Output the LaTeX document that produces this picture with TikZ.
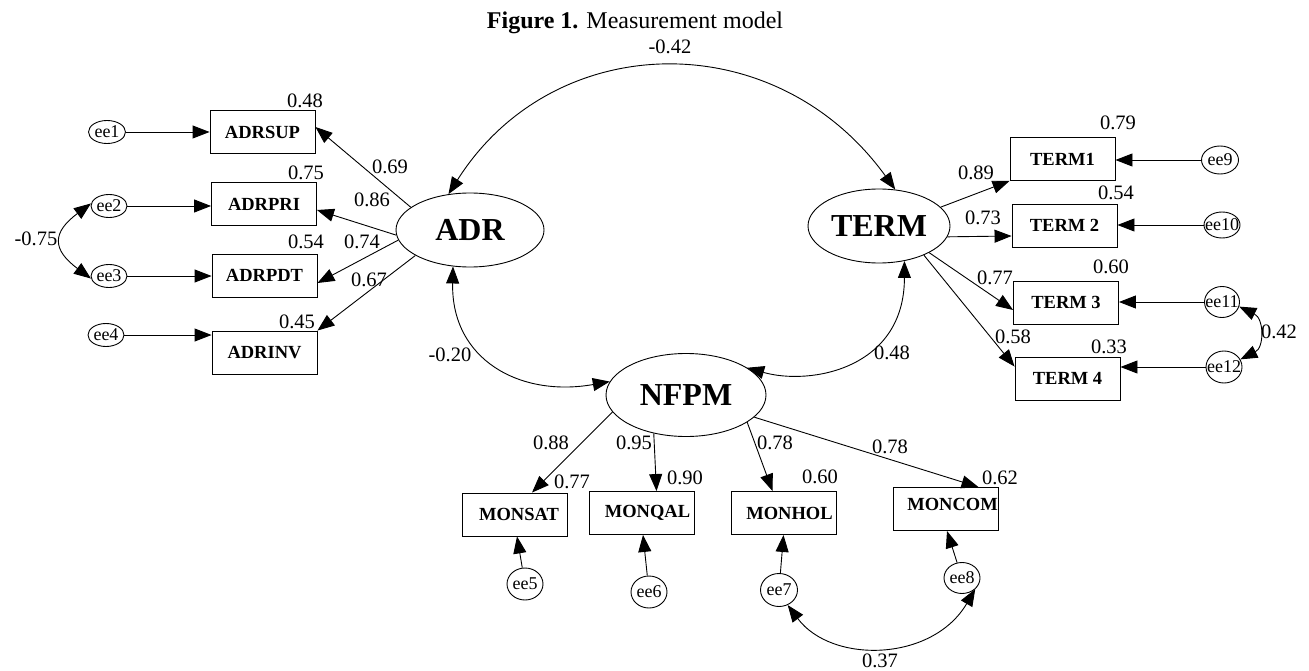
\documentclass[tikz,border=0pt]{standalone}
\usepackage{fontspec}
\setmainfont{Liberation Serif}
\usetikzlibrary{arrows.meta,shapes.geometric}
\newcommand\eelabel[1]{\makebox[0pt]{ee#1}}
\begin{document}
\begin{tikzpicture}[x=1pt,y=-1pt,
  lat/.style={ellipse,draw,inner sep=0pt,line width=0.9pt,font=\fontsize{32}{36}\selectfont\bfseries},
  obs/.style={rectangle,draw,inner sep=0pt,line width=0.9pt,minimum width=105,minimum height=43,font=\fontsize{18.5}{21}\selectfont\bfseries},
  err/.style={ellipse,draw,inner sep=0pt,line width=0.9pt,font=\fontsize{18}{20}\selectfont},
  num/.style={inner sep=0pt,font=\fontsize{20.5}{24}\selectfont},
  arr/.style={-{Triangle[length=17pt,width=13pt]},line width=0.9pt},
  cov/.style={{Triangle[length=17pt,width=13pt]}-{Triangle[length=17pt,width=13pt]},line width=0.9pt}]
\fill[white] (0,0) rectangle (1309,671);
\useasboundingbox (0,0) rectangle (1309,671);

% title
\node[anchor=base,inner sep=0pt,font=\fontsize{24}{28}\selectfont] (title) at (635,29) {\textbf{Figure 1.} Measurement model};

% latent variables
\node[lat,minimum width=148,minimum height=74] (ADR) at (470,230) {ADR};
\node[lat,minimum width=142,minimum height=74] (TERM) at (879,226) {TERM};
\node[lat,minimum width=160,minimum height=83] (NFPM) at (686,395) {NFPM};

% observed
\node[obs] (ADRSUP) at (262.5,132) {ADRSUP};
\node[obs] (ADRPRI) at (264,204) {ADRPRI};
\node[obs] (ADRPDT) at (264.5,275.5) {ADRPDT};
\node[obs] (ADRINV) at (264.5,352.5) {ADRINV};
\node[obs] (TERM1) at (1062.5,159) {TERM1};
\node[obs] (TERM2) at (1064.5,225.5) {TERM 2};
\node[obs] (TERM3) at (1066,302.5) {TERM 3};
\node[obs] (TERM4) at (1067.5,378.5) {TERM 4};
\node[obs] (MONSAT) at (515,514.5) {\hspace*{8pt}MONSAT};
\node[obs] (MONQAL) at (641.5,513) {\hspace*{12pt}MONQAL};
\node[obs] (MONHOL) at (783.5,513) {\hspace*{12pt}MONHOL};
\node[obs] (MONCOM) at (945.5,509) {\hspace*{14pt}\raisebox{9pt}{MONCOM}};

% errors
\node[err,minimum width=37,minimum height=23] (ee1) at (107,132) {\eelabel{1}};
\node[err,minimum width=36,minimum height=23] (ee2) at (109,206) {\eelabel{2}};
\node[err,minimum width=36,minimum height=23] (ee3) at (109,276) {\eelabel{3}};
\node[err,minimum width=36,minimum height=23] (ee4) at (106,335) {\eelabel{4}};
\node[err,minimum width=36,minimum height=32] (ee5) at (525,584) {\eelabel{5}};
\node[err,minimum width=36,minimum height=32] (ee6) at (649,592) {\eelabel{6}};
\node[err,minimum width=37,minimum height=33] (ee7) at (779,590) {\eelabel{7}};
\node[err,minimum width=36,minimum height=31] (ee8) at (962,578) {\eelabel{8}};
\node[err,minimum width=37,minimum height=28] (ee9) at (1220,160) {\eelabel{9}};
\node[err,minimum width=36,minimum height=26] (ee10) at (1222,225) {\eelabel{10}};
\node[err,minimum width=35,minimum height=31] (ee11) at (1222,302) {\eelabel{11}};
\node[err,minimum width=36,minimum height=32] (ee12) at (1224,367) {\eelabel{12}};

% loadings ADR
\draw[arr] (ADR.159) -- ([yshift=5pt]ADRSUP.east);
\draw[arr] (ADR.184) -- ([yshift=-6pt]ADRPRI.east);
\draw[arr] (ADR.188) -- ([yshift=-7.5pt]ADRPDT.east);
\draw[arr] (ADR.205) -- (ADRINV.north east);
% loadings TERM
\draw[arr] (TERM.17.6) -- (TERM1.south west);
\draw[arr] (TERM.-9) -- ([yshift=-10.5pt]TERM2.west);
\draw[arr] (TERM.-28) -- ([yshift=-7.5pt]TERM3.west);
\draw[arr] (TERM.-33) -- ([yshift=-10pt]TERM4.north west);
% loadings NFPM
\draw[arr] (NFPM.193) -- ([xshift=17pt]MONSAT.north);
\draw[arr] (NFPM.230) -- ([xshift=15pt]MONQAL.north);
\draw[arr] (NFPM.-24.7) -- ([xshift=-11pt]MONHOL.north);
\draw[arr] (NFPM.-18) -- ([xshift=33pt]MONCOM.north);

% error arrows
\draw[arr] (ee1) -- (ee1 -| ADRSUP.west);
\draw[arr] (ee2) -- (ee2 -| ADRPRI.west);
\draw[arr] (ee3) -- (ee3 -| ADRPDT.west);
\draw[arr] (ee4) -- (ee4 -| ADRINV.west);
\draw[arr] (ee9) -- (ee9 -| TERM1.east);
\draw[arr] (ee10) -- (ee10 -| TERM2.east);
\draw[arr] (ee11) -- (ee11 -| TERM3.east);
\draw[arr] (ee12) -- (ee12 -| TERM4.east);
\draw[arr] (ee5) -- ([xshift=2pt]MONSAT.south);
\draw[arr] (ee6) -- ([xshift=1.5pt]MONQAL.south);
\draw[arr] (ee7) -- (MONHOL.south);
\draw[arr] (ee8) -- ([xshift=1.5pt]MONCOM.south);

% covariances
\draw[cov] (ADR.121) .. controls +(105,-166) and +(-120,-166) .. (TERM.66);
\draw[cov] (ADR.245) .. controls +(-2,93) and +(-90,16) .. (NFPM.170);
\draw[cov] (NFPM.24) .. controls +(63,18) and +(0,108) .. (TERM.-54);
\draw[cov] (ee2.172) .. controls +(-39,29) and +(-39,-29) .. (ee3.188);
\draw[cov] (ee11.-15) .. controls +(25,12) and +(24,-12) .. (ee12.25);
\draw[cov] (ee7.-60) .. controls +(44,59) and +(-43,73) .. (ee8.-40);

% labels
\node[num] (l1) at (670,47) {-0.42};
\node[num] (l2) at (305,101) {0.48};
\node[num] (l3) at (390,167) {0.69};
\node[num] (l4) at (306,173) {0.75};
\node[num] (l5) at (372,200) {0.86};
\node[num] (l6) at (306,242) {0.54};
\node[num] (l7) at (362,242) {0.74};
\node[num] (l8) at (369,280) {0.67};
\node[num] (l9) at (297,322) {0.45};
\node[num] (l10) at (36,239) {-0.75};
\node[num] (l11) at (450,355) {-0.20};
\node[num] (l12) at (892,353) {0.48};
\node[num] (l13) at (1118,123) {0.79};
\node[num] (l14) at (976,173) {0.89};
\node[num] (l15) at (1116,193) {0.54};
\node[num] (l16) at (983,218) {0.73};
\node[num] (l17) at (1111,267) {0.60};
\node[num] (l18) at (995,278) {0.77};
\node[num] (l19) at (1013,337) {0.58};
\node[num] (l20) at (1109,347) {0.33};
\node[num] (l21) at (1279,332) {0.42};
\node[num] (l22) at (551,443) {0.88};
\node[num] (l23) at (634,443) {0.95};
\node[num] (l24) at (775,443) {0.78};
\node[num] (l25) at (890,447) {0.78};
\node[num] (l26) at (572,482) {0.77};
\node[num] (l27) at (685,478) {0.90};
\node[num] (l28) at (820,477) {0.60};
\node[num] (l29) at (1000,478) {0.62};
\node[num] (l30) at (880,661) {0.37};
\end{tikzpicture}
\end{document}
